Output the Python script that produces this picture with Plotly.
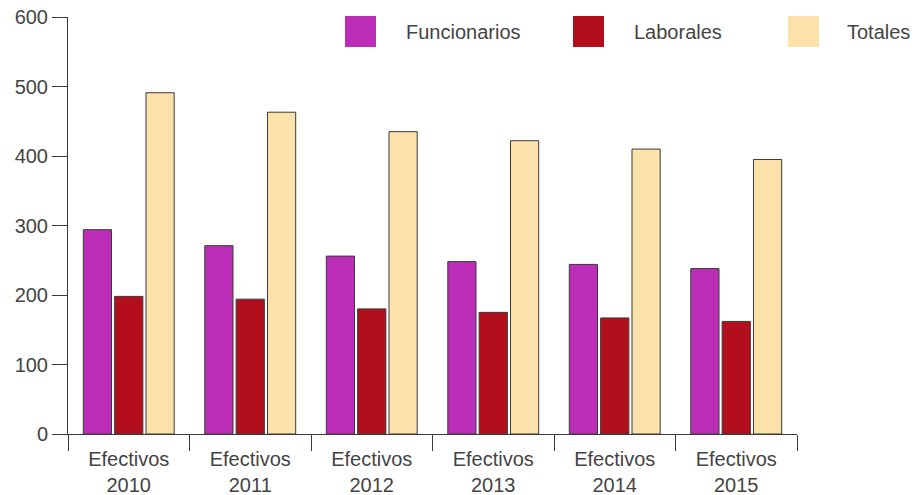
import plotly.graph_objects as go

categories = ["Efectivos<br>2010", "Efectivos<br>2011", "Efectivos<br>2012",
              "Efectivos<br>2013", "Efectivos<br>2014", "Efectivos<br>2015"]
funcionarios = [294, 271, 256, 248, 244, 238]
laborales = [198, 194, 180, 175, 167, 162]
totales = [491, 463, 435, 422, 410, 395]
series_names = ["Funcionarios", "Laborales", "Totales"]
y_ticks = [0, 100, 200, 300, 400, 500, 600]

colors = ["#BD2EB8", "#B30E1C", "#FDE1AB"]
outline = "#3a3a3a"
text_color = "#444444"
FONT = "Liberation Sans"

# page body has an 8px margin; compensate so the plot lands where the reference has it
OFF = 8
W, H = 918 - OFF, 495 - OFF
ML, MR, MT, MB = 68 - OFF, 121, 17 - OFF, 61
PW, PH = W - ML - MR, H - MT - MB


def px_x(px):
    return (px - OFF - ML) / PW


def px_y(py):
    return (OFF + H - MB - py) / PH


fig = go.Figure()
for name, vals, col in zip(series_names, [funcionarios, laborales, totales], colors):
    fig.add_trace(go.Bar(
        x=categories, y=vals, name=name,
        marker=dict(color=col, line=dict(color=outline, width=1)),
        showlegend=False,
    ))

# custom legend (large square swatches)
legend_pos = [(345, 404), (573, 632), (788, 845)]
for (sx, tx), name, col in zip(legend_pos, series_names, colors):
    fig.add_shape(type="rect", xref="paper", yref="paper",
                  x0=px_x(sx), x1=px_x(sx + 31), y0=px_y(47), y1=px_y(16),
                  fillcolor=col, line=dict(width=0))
    fig.add_annotation(x=px_x(tx), y=px_y(31.5), xref="paper", yref="paper",
                       text=name, showarrow=False, xanchor="left", yanchor="middle",
                       font=dict(family=FONT, size=20, color=text_color))

fig.update_layout(
    width=W, height=H,
    margin=dict(l=ML, r=MR, t=MT, b=MB, pad=0, autoexpand=False),
    paper_bgcolor="white", plot_bgcolor="white",
    barmode="group", bargap=0.226, bargroupgap=0.1,
    font=dict(family=FONT, size=20, color=text_color),
    xaxis=dict(
        type="category", showline=True, linecolor=outline, linewidth=1,
        ticks="outside", tickson="boundaries", ticklen=16, tickcolor=outline,
        tickwidth=1, showgrid=False, zeroline=False, automargin=False,
        ticklabelstandoff=7, ticklabeloverflow="allow",
        tickfont=dict(family=FONT, size=20, color=text_color),
    ),
    yaxis=dict(
        range=[0, 600], tickvals=y_ticks, showline=True, linecolor=outline,
        linewidth=1, ticks="outside", ticklen=15, tickcolor=outline, tickwidth=1,
        showgrid=False, zeroline=False, automargin=False,
        ticklabeloverflow="allow",
        tickfont=dict(family=FONT, size=20, color=text_color),
    ),
)

fig.write_html("out.html")
